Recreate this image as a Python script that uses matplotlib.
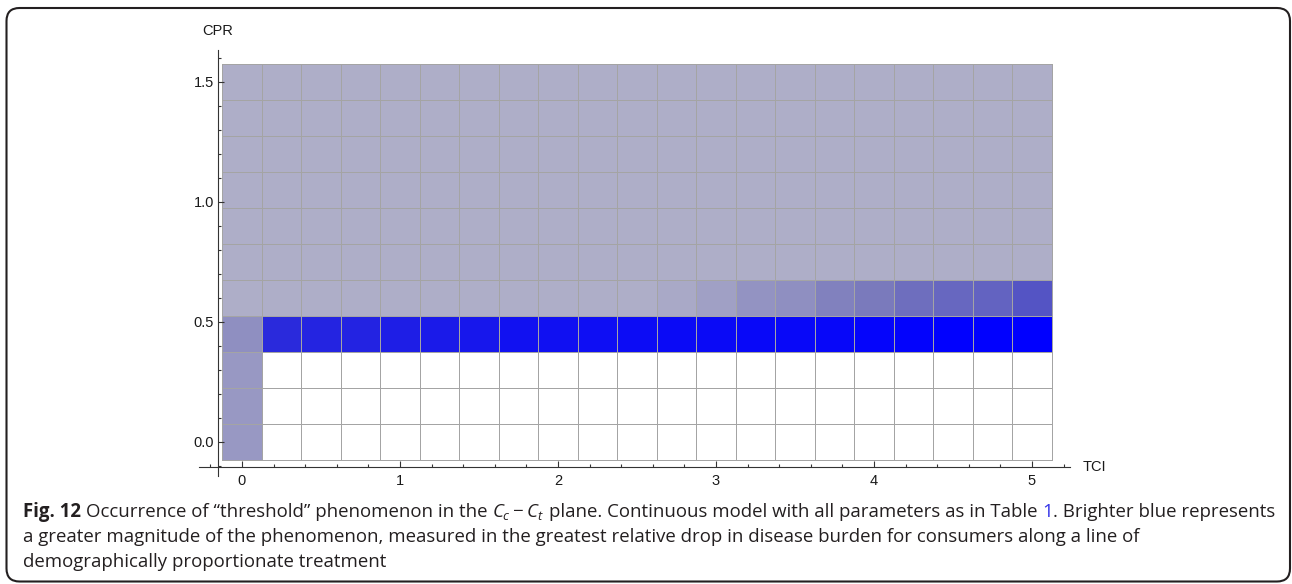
import numpy as np
import matplotlib.pyplot as plt
from matplotlib.colors import LinearSegmentedColormap
from matplotlib.patches import FancyBboxPatch
from matplotlib.transforms import IdentityTransform

nan = np.nan

# grid of the density plot
tci = [0, 0.25, 0.5, 0.75, 1, 1.25, 1.5, 1.75, 2, 2.25, 2.5,
       2.75, 3, 3.25, 3.5, 3.75, 4, 4.25, 4.5, 4.75, 5]
cpr = [0, 0.15, 0.3, 0.45, 0.6, 0.75, 0.9, 1.05, 1.2, 1.35, 1.5]

# magnitude of the threshold phenomenon per CPR row (nan = none, drawn white)
mag_000 = [0.13] + [nan] * 20
mag_015 = [0.13] + [nan] * 20
mag_030 = [0.13] + [nan] * 20
mag_045 = [0.18, 0.76, 0.79, 0.80, 0.83, 0.85, 0.87, 0.90, 0.91, 0.92, 0.93,
           0.94, 0.94, 0.95, 0.95, 0.96, 0.97, 0.98, 0.99, 0.99, 1.00]
mag_060 = [0.0] * 11 + [0.03, 0.08, 0.16, 0.18, 0.26, 0.30, 0.37, 0.41, 0.43, 0.52]
mag_075 = [0.0] * 21
mag_090 = [0.0] * 21
mag_105 = [0.0] * 21
mag_120 = [0.0] * 21
mag_135 = [0.0] * 21
mag_150 = [0.0] * 21

x_ticks = [0, 1, 2, 3, 4, 5]
x_tick_labels = ["0", "1", "2", "3", "4", "5"]
y_ticks = [0.0, 0.5, 1.0, 1.5]
y_tick_labels = ["0.0", "0.5", "1.0", "1.5"]

caption_lines = [
    [("Fig. 12", "bold"), (" Occurrence of \u201cthreshold\u201d phenomenon in the ", "normal"),
     (r"$C_c - C_t$", "normal"),
     (" plane. Continuous model with all parameters as in Table ", "normal"),
     ("1", "link"), (". Brighter blue represents", "normal")],
    [("a greater magnitude of the phenomenon, measured in the greatest relative drop in "
      "disease burden for consumers along a line of", "normal")],
    [("demographically proportionate treatment", "normal")],
]

plt.rcParams["font.family"] = ["Liberation Sans", "DejaVu Sans"]
plt.rcParams["mathtext.fontset"] = "custom"
plt.rcParams["mathtext.rm"] = "Open Sans"
plt.rcParams["mathtext.it"] = "Open Sans:italic"

mag = np.ma.masked_invalid(np.array([mag_000, mag_015, mag_030, mag_045, mag_060, mag_075,
                                     mag_090, mag_105, mag_120, mag_135, mag_150]))

cmap = LinearSegmentedColormap.from_list("threshold", [
    (0.0, "#aeaec8"), (0.3, "#7a7abc"), (0.52, "#5454c4"), (0.76, "#2a2adc"), (1.0, "#0000ff")])
cmap.set_bad("white")

fig = plt.figure(figsize=(12.92, 5.84), dpi=100)
ax = fig.add_axes([0.15426, 0.18562, 0.67384, 0.72945])

tci_a = np.array(tci)
cpr_a = np.array(cpr)
dx = tci_a[1] - tci_a[0]
dy = cpr_a[1] - cpr_a[0]
x_edges = np.append(tci_a - dx / 2, tci_a[-1] + dx / 2)
y_edges = np.append(cpr_a - dy / 2, cpr_a[-1] + dy / 2)
ax.pcolormesh(x_edges, y_edges, mag, cmap=cmap, vmin=0, vmax=1,
              edgecolors="#a4a4a4", linewidth=0.65)

ax.set_xlim(-0.27, 5.24)
ax.set_ylim(-0.14, 1.635)
for s in ["top", "right"]:
    ax.spines[s].set_visible(False)
ax.spines["left"].set_position(("data", -0.152))
ax.spines["bottom"].set_position(("data", -0.104))
for s in ["left", "bottom"]:
    ax.spines[s].set_color("#333333")
    ax.spines[s].set_linewidth(0.8)

ax.set_xticks(x_ticks)
ax.set_xticklabels(x_tick_labels)
ax.set_xticks(np.round(np.arange(-0.2, 5.21, 0.2), 2), minor=True)
ax.set_yticks(y_ticks)
ax.set_yticklabels(y_tick_labels)
ax.set_yticks(np.round(np.arange(-0.1, 1.61, 0.1), 2), minor=True)
ax.tick_params(which="both", direction="in", color="#333333", width=0.8)
ax.tick_params(which="major", length=4)
ax.tick_params(which="minor", length=2.5)
ax.tick_params(axis="x", which="major", pad=5, labelsize=10.5, labelcolor="#1a1a1a")
ax.tick_params(axis="y", which="major", pad=3, labelsize=10.5, labelcolor="#1a1a1a")

ax.text(-0.152, 1.7125, "CPR", ha="center", va="center", fontsize=10.5,
        color="#1a1a1a", clip_on=False)
ax.text(5.323, -0.104, "TCI", ha="left", va="center", fontsize=10.5,
        color="#1a1a1a", clip_on=False)

# caption, placed run by run in pixel coordinates
renderer = fig.canvas.get_renderer()
ident = IdentityTransform()
text_color = "#231f20"


def draw_line(x, y, runs, size):
    arts = []
    space = fig.text(0, 0, "a a", fontsize=size, family="Open Sans")
    nospace = fig.text(0, 0, "aa", fontsize=size, family="Open Sans")
    space_w = space.get_window_extent(renderer).width - nospace.get_window_extent(renderer).width
    space.remove()
    nospace.remove()
    for s, style in runs:
        lead = len(s) - len(s.lstrip(" "))
        trail = len(s) - len(s.rstrip(" "))
        x += lead * space_w
        kw = {"color": text_color, "fontweight": "normal"}
        if style == "bold":
            kw["fontweight"] = "bold"
        elif style == "link":
            kw["color"] = "#3535e8"
        t = fig.text(x, y, s.strip(" "), transform=ident, fontsize=size, family="Open Sans",
                     ha="left", va="baseline", **kw)
        arts.append(t)
        x = t.get_window_extent(renderer).x1 + trail * space_w
    return x, arts


size = 12.8
end, arts = draw_line(22.7, 67.3, caption_lines[0], size)
for a in arts:
    a.remove()
size = size * (1274 - 22.7) / (end - 22.7)
baselines = [67.3, 42.3, 17.0]
for runs, yb in zip(caption_lines, baselines):
    draw_line(22.7, yb, runs, size)

border = FancyBboxPatch((6.5, 2.5), 1283.5, 573.5, boxstyle="round,pad=0,rounding_size=13",
                        transform=ident, fill=False, ec="#231f20", lw=1.5)
fig.add_artist(border)

fig.savefig("out.png", dpi=100, facecolor="white")
